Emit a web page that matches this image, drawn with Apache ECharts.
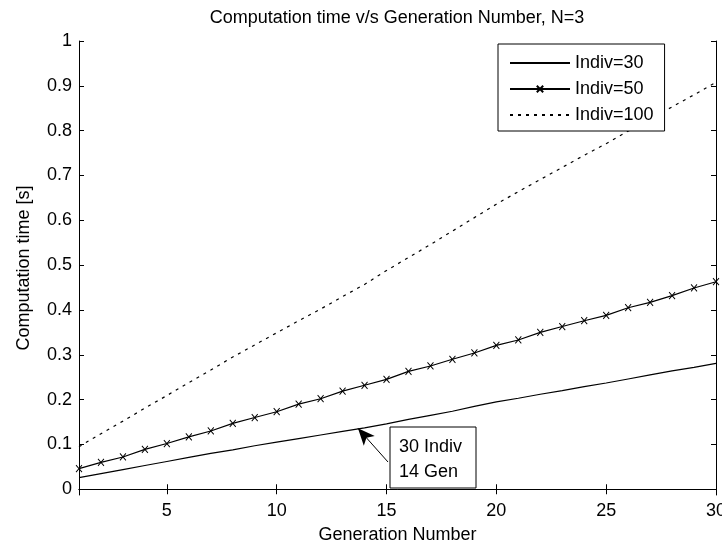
<!DOCTYPE html>
<html>
<head>
<meta charset="utf-8">
<script src="https://cdn.jsdelivr.net/npm/echarts@6/dist/echarts.min.js"></script>
<style>
html,body{margin:0;padding:0;background:#fff;}
#chart{width:722px;height:546px;}
</style>
</head>
<body>
<div id="chart"></div>
<script>
const generations = [1,2,3,4,5,6,7,8,9,10,11,12,13,14,15,16,17,18,19,20,21,22,23,24,25,26,27,28,29,30];
const indiv30 = [0.026,0.035,0.044,0.053,0.062,0.071,0.080,0.088,0.097,0.105,0.113,0.121,0.129,0.137,0.146,0.156,0.165,0.174,0.185,0.195,0.203,0.212,0.220,0.229,0.237,0.246,0.255,0.264,0.272,0.281];
const indiv50 = [0.046,0.060,0.072,0.089,0.102,0.117,0.130,0.147,0.160,0.173,0.190,0.202,0.219,0.232,0.245,0.263,0.275,0.290,0.304,0.321,0.333,0.350,0.363,0.376,0.388,0.405,0.417,0.432,0.449,0.463];
const indiv100 = [0.095,0.124,0.152,0.181,0.209,0.238,0.266,0.295,0.322,0.349,0.376,0.402,0.430,0.457,0.488,0.517,0.546,0.576,0.606,0.636,0.664,0.691,0.718,0.745,0.771,0.799,0.826,0.853,0.880,0.908];
const xTicks = [5,10,15,20,25,30];
const yTicks = [0,0.1,0.2,0.3,0.4,0.5,0.6,0.7,0.8,0.9,1];
const yTickLabels = ['0','0.1','0.2','0.3','0.4','0.5','0.6','0.7','0.8','0.9','1'];
const seriesNames = ['Indiv=30','Indiv=50','Indiv=100'];
const annotationText = '30 Indiv\n14 Gen';
const annotationPoint = [13.7, 0.136];

const FONT = "'Liberation Sans', Arial, sans-serif";
const FS = 18;

function pairs(vals){ return generations.map((g,i)=>[g, vals[i]]); }

const chart = echarts.init(document.getElementById('chart'), null, {renderer:'canvas'});

const axisCommon = {
  axisLine:{show:true, lineStyle:{color:'#000', width:1}},
  splitLine:{show:false}
};
const hiddenSymbol = {color:'transparent', borderColor:'transparent', borderWidth:0};

const option = {
  backgroundColor:'#fff',
  animation:false,
  title:{
    text:'Computation time v/s Generation Number, N=3',
    left:397, textAlign:'center', top:9, padding:0,
    textStyle:{fontFamily:FONT, fontSize:FS, fontWeight:'normal', color:'#000'}
  },
  grid:{left:79, right:6, top:41, bottom:51, outerBoundsMode:'none', containLabel:false},
  legend:{
    orient:'vertical', left:498, top:44,
    padding:[10,11,7,11],
    itemWidth:60, itemHeight:8, itemGap:8,
    backgroundColor:'#fff', borderColor:'#000', borderWidth:1,
    textStyle:{fontFamily:FONT, fontSize:FS, color:'#000', lineHeight:18},
    data:[
      {name:seriesNames[0], itemStyle:hiddenSymbol},
      {name:seriesNames[1]},
      {name:seriesNames[2], itemStyle:hiddenSymbol}
    ]
  },
  xAxis:[{
    type:'value', position:'bottom', min:1, max:30,
    ...axisCommon,
    axisTick:{show:true, inside:true, length:5, lineStyle:{color:'#000'}, customValues:xTicks},
    axisLabel:{show:true, margin:7, customValues:xTicks, fontFamily:FONT, fontSize:FS, color:'#000'},
    name:'Generation Number', nameLocation:'middle', nameGap:31,
    nameTextStyle:{fontFamily:FONT, fontSize:FS, color:'#000'}
  },{
    type:'value', position:'top', min:1, max:30,
    ...axisCommon,
    axisTick:{show:true, inside:true, length:5, lineStyle:{color:'#000'}, customValues:xTicks},
    axisLabel:{show:false}
  }],
  yAxis:[{
    type:'value', position:'left', min:-0.0128, max:1,
    ...axisCommon,
    axisTick:{show:true, inside:true, length:5, lineStyle:{color:'#000'}, customValues:yTicks},
    axisLabel:{show:true, margin:7, customValues:yTicks, fontFamily:FONT, fontSize:FS, color:'#000',
      formatter:function(v){ const i = yTicks.findIndex(t=>Math.abs(t-v)<1e-9); return i>=0 ? yTickLabels[i] : ''; }},
    name:'Computation time [s]', nameLocation:'middle', nameGap:46, nameRotate:90,
    nameTextStyle:{fontFamily:FONT, fontSize:FS, color:'#000'}
  },{
    type:'value', position:'right', min:-0.0128, max:1,
    ...axisCommon,
    axisTick:{show:true, inside:true, length:5, lineStyle:{color:'#000'}, customValues:yTicks},
    axisLabel:{show:false}
  }],
  series:[{
    name:seriesNames[0], type:'line', data:pairs(indiv30),
    symbol:'none', lineStyle:{color:'#000', width:1.2, type:'solid'}, itemStyle:{color:'#000'},
    markLine:{
      silent:true, symbol:['none','arrow'], symbolSize:[11,17],
      label:{show:false},
      lineStyle:{color:'#000', width:1, type:'solid'},
      data:[[{x:388, y:462},{coord:annotationPoint}]]
    }
  },{
    name:seriesNames[1], type:'line', data:pairs(indiv50),
    symbol:'path://M0,0L8,9M8,0L0,9', symbolSize:[6,7], showSymbol:true,
    lineStyle:{color:'#000', width:1.2, type:'solid'},
    itemStyle:{color:'transparent', borderColor:'#000', borderWidth:1}
  },{
    name:seriesNames[2], type:'line', data:pairs(indiv100),
    symbol:'none', lineStyle:{color:'#000', width:1.2, type:[3,5]}, itemStyle:{color:'#000'}
  }],
  graphic:[{
    type:'rect', shape:{x:390, y:427, width:86, height:61},
    style:{fill:'#fff', stroke:'#000', lineWidth:1}, z:100
  },{
    type:'text', x:399, y:435, z:101,
    style:{text:annotationText, font:FS+'px '+FONT, fill:'#000', lineHeight:25, verticalAlign:'top', align:'left'}
  }]
};
chart.setOption(option);
</script>
</body>
</html>
